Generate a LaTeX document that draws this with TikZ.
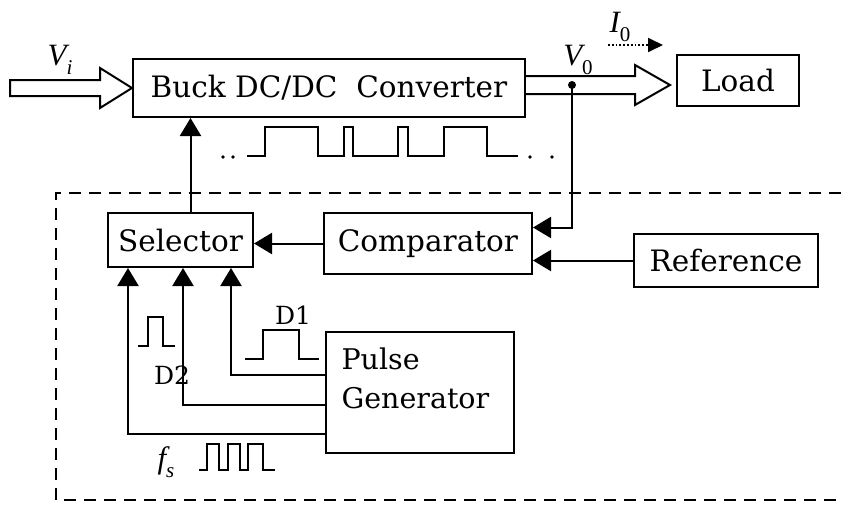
\documentclass[tikz,border=0pt]{standalone}
\usepackage{fontspec}
\setmainfont{DejaVu Serif}
\newfontfamily\symfont{Liberation Serif}
\usepackage{tikz}
\usetikzlibrary{arrows.meta, calc}
\newcommand{\qty}[2]{{\symfont\itshape #1}\raisebox{-0.3em}{\symfont\fontsize{21}{24}\selectfont #2}}
\tikzset{
  block/.style={
    draw,
    line width=2pt,
    inner sep=0pt,
    font=\fontsize{29.5}{34}\selectfont
  },
  sig/.style={
    -{Triangle[length=18pt,width=21pt]},
    line width=2pt
  },
  hollow/.style={
    draw,
    line width=2pt,
    line join=miter
  },
  wave/.style={
    line width=2pt,
    line join=miter
  },
  frame/.style={
    line width=1.8pt,
    dash pattern=on 12pt off 8pt
  },
  lbl/.style={
    font=\fontsize{31}{36}\selectfont
  },
  small lbl/.style={
    font=\fontsize{25}{30}\selectfont
  }
}

\begin{document}
\begin{tikzpicture}[x=1pt, y=-1pt]
    % 1 unit = 1 pixel of the reference, y grows downwards
    \useasboundingbox (0,0) rectangle (841,506);

    % blocks
    \node[block, minimum width=392pt, minimum height=58pt] (buck) at (329,88) {Buck DC/DC\ \ Converter};
    \node[block, minimum width=122pt, minimum height=51pt] (load) at (738,80.5) {Load};
    \node[block, minimum width=145pt, minimum height=54pt] (sel) at (180.5,240) {Selector};
    \node[block, minimum width=208pt, minimum height=61pt] (comp) at (428,243.5) {Comparator};
    \node[block, minimum width=184pt, minimum height=53pt] (ref) at (726,260.5) {Reference};
    \node[block, minimum width=188pt, minimum height=121pt] (gen) at (420,392.5) {};
    \node[align=left, anchor=west, font=\fontsize{28.5}{39}\selectfont] (gentxt) at (338,378) {Pulse\\Generator};

    % control section frame
    \draw[frame] (841,193) -- (56,193) -- (56,500) -- (841,500);

    % power path (hollow arrows)
    \draw[hollow] (10,80) -- (100,80) -- (100,68) -- (buck.west) -- (100,108) -- (100,96) -- (10,96) -- cycle;
    \coordinate (otip) at (670,85);
    \draw[hollow] (buck.east |- 0,76) -- (635,76) -- (635,65) -- (otip) -- (635,105) -- (635,94) -- (buck.east |- 0,94);
    \node[lbl] (vi) at (60,60) {\qty{V}{\itshape i}};
    \node[lbl] (vo) at (578,60) {\qty{V}{0}};

    % output current
    \coordinate (ia) at (608,45);
    \coordinate (ib) at (663,45);
    \draw[dotted, line width=1.8pt, -{Triangle[length=15pt,width=14pt]}] (ia) -- (ib);
    \node[lbl] (io) at (620,27) {\qty{I}{0}};

    % feedback
    \coordinate (tap) at (572,85);
    \fill (tap) circle[radius=4pt];
    \draw[sig] (tap) |- ($(comp.east)+(0,-16)$);
    \draw[sig] (ref.west) -- (ref.west -| comp.east);
    \draw[sig] (comp.west) -- (comp.west -| sel.east);
    \coordinate (selup) at ($(sel.north)+(10,0)$);
    \draw[sig] (selup) -- (selup |- buck.south);

    % pulse generator outputs
    \draw[sig] ($(gen.west)+(0,-17.5)$) -| ($(sel.south)+(50.5,0)$);
    \draw[sig] ($(gen.west)+(0,12.5)$) -| ($(sel.south)+(2.5,0)$);
    \draw[sig] ($(gen.west)+(0,41.5)$) -| ($(sel.south)+(-52.5,0)$);

    % switching signal to converter
    \draw[wave] (247,156) -- (265,156) -- (265,127) -- (318,127) -- (318,156) -- (344,156) -- (344,127)
      -- (353,127) -- (353,156) -- (398,156) -- (398,127) -- (408,127) -- (408,156) -- (444,156)
      -- (444,127) -- (487,127) -- (487,156) -- (518,156);
    \foreach \x in {223,233,530,552}
      \fill (\x,157) circle[radius=1.8pt];

    % D1, D2 and fs waveforms
    \draw[wave] (245,359) -- (263,359) -- (263,330) -- (299,330) -- (299,359) -- (319,359);
    \node[small lbl] (d1) at (293,315) {D1};
    \draw[wave] (138,346) -- (148,346) -- (148,317) -- (163,317) -- (163,346) -- (175,346);
    \node[small lbl] (d2) at (172,375) {D2};
    \draw[wave] (199,470) -- (207,470) -- (207,444) -- (219,444) -- (219,470) -- (228,470) -- (228,444)
      -- (240,444) -- (240,470) -- (248,470) -- (248,444) -- (263,444) -- (263,470) -- (275,470);
    \node[lbl] (fs) at (166,462) {\qty{f}{\itshape s}};
\end{tikzpicture}
\end{document}
